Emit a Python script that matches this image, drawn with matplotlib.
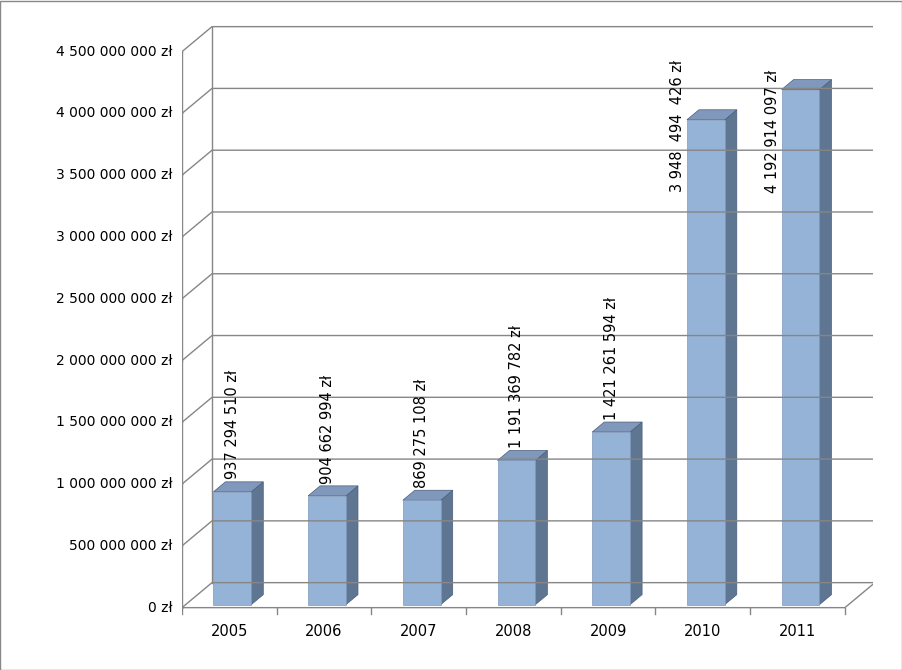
import matplotlib
matplotlib.use("Agg")
import matplotlib.pyplot as plt
from matplotlib.patches import Polygon, Rectangle

years = ["2005", "2006", "2007", "2008", "2009", "2010", "2011"]
values = [937294510, 904662994, 869275108, 1191369782, 1421261594, 3948494426, 4192914097]
labels = ["937 294 510 zł", "904 662 994 zł", "869 275 108 zł", "1 191 369 782 zł",
          "1 421 261 594 zł", "3 948  494  426 zł", "4 192 914 097 zł"]
yticks = [0, 500e6, 1000e6, 1500e6, 2000e6, 2500e6, 3000e6, 3500e6, 4000e6, 4500e6]
ytick_labels = ["0 zł", "500 000 000 zł", "1 000 000 000 zł", "1 500 000 000 zł",
                "2 000 000 000 zł", "2 500 000 000 zł", "3 000 000 000 zł",
                "3 500 000 000 zł", "4 000 000 000 zł", "4 500 000 000 zł"]

W, H = 903, 670
fig = plt.figure(figsize=(W/100, H/100), dpi=100)
px_x = 94.7
px_y = 556/4.5e9
x0, x1 = 0, 7.3
y0, y1 = -0.1e9, 4.75e9
left = 182
ax = fig.add_axes([left/W, (H-620)/H, (x1-x0)*px_x/W, (y1-y0)*px_y/H])
ax.set_xlim(x0, x1); ax.set_ylim(y0, y1); ax.axis("off")

ddx, ddy = 30/px_x, 25/px_y
bdx, bdy = 12/px_x, 10/px_y
grid = "#868686"
for t, lab in zip(yticks, ytick_labels):
    ax.plot([0, ddx, 7+ddx], [t, t+ddy, t+ddy], color=grid, lw=1)
    ax.plot([-0.06, 0], [t, t], color=grid, lw=1)
    ax.text(-0.1, t, lab, ha="right", va="center", fontsize=10)
ax.plot([0, 0], [0, yticks[-1]], color=grid, lw=1)
ax.plot([ddx, ddx], [ddy, yticks[-1]+ddy], color=grid, lw=1)
ax.plot([0, 7, 7+ddx], [0, 0, ddy], color=grid, lw=1)
for i in range(8):
    ax.plot([i, i], [0, -0.05e9], color=grid, lw=1)
for i, y in enumerate(years):
    ax.text(i+0.5, -0.13e9, y, ha="center", va="top", fontsize=10.5)

bw = 0.4
ox, oy = 3/px_x, 3/px_y
label_top = {5: 4.43e9, 6: 4.35e9}
for i, v in enumerate(values):
    xl = i + 0.5 - bw/2 + ox; xr = xl + bw; b = oy
    ax.add_patch(Polygon([(xr, b), (xr+bdx, b+bdy), (xr+bdx, v+bdy), (xr, v)],
                         facecolor="#5F7693", edgecolor="#4A5E78", lw=0.5))
    ax.add_patch(Polygon([(xl, v), (xr, v), (xr+bdx, v+bdy), (xl+bdx, v+bdy)],
                         facecolor="#7F98BC", edgecolor="#4A5E78", lw=0.5))
    ax.add_patch(Rectangle((xl, b), bw, v-b, facecolor="#95B3D7", edgecolor="#7F98BC", lw=0.5))
    if i in label_top:
        ax.text((xl+xr)/2 - 0.3, label_top[i], labels[i], rotation=90,
                ha="center", va="top", fontsize=10.5)
    else:
        ax.text((xl+xr)/2, v + 0.1e9, labels[i], rotation=90,
                ha="center", va="bottom", fontsize=10.5)

fig.patches.append(Rectangle((0.5/W, 0.5/H), 1-1/W, 1-1/H, transform=fig.transFigure,
                             fill=False, edgecolor="#888888", lw=1))
fig.savefig("out.png", dpi=100)
